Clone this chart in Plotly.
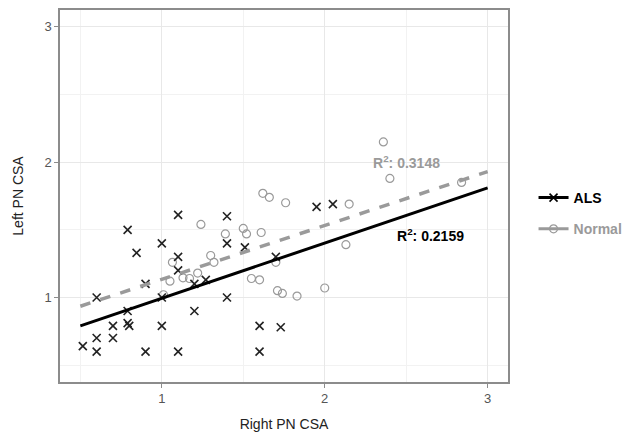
import plotly.graph_objects as go

# ALS data
als_x = [1.10, 1.40, 0.79, 1.00, 1.40, 0.845, 1.10, 1.51, 1.10, 0.90, 1.20, 1.27, 1.70,
         0.60, 1.00, 1.40, 0.79, 1.20, 0.70, 0.79, 0.80, 1.00, 1.60, 1.73, 0.60, 0.70,
         0.515, 0.60, 0.90, 1.10, 1.60, 1.95, 2.05]
als_y = [1.61, 1.60, 1.50, 1.40, 1.40, 1.33, 1.30, 1.37, 1.20, 1.10, 1.10, 1.13, 1.30,
         1.00, 1.00, 1.00, 0.90, 0.90, 0.79, 0.81, 0.79, 0.79, 0.79, 0.78, 0.70, 0.70,
         0.64, 0.60, 0.60, 0.60, 0.60, 1.67, 1.69]

# Normal data
normal_x = [1.24, 1.39, 1.50, 1.52, 1.61, 1.065, 1.30, 1.32, 1.05, 1.13, 1.17, 1.22, 1.55,
            1.60, 1.70, 1.71, 1.74, 1.83, 1.01, 1.62, 1.66, 1.76, 2.15, 2.13, 2.00, 2.36,
            2.40, 2.84]
normal_y = [1.54, 1.47, 1.51, 1.47, 1.48, 1.26, 1.31, 1.26, 1.12, 1.145, 1.14, 1.18, 1.14,
            1.13, 1.26, 1.05, 1.03, 1.01, 1.02, 1.77, 1.74, 1.70, 1.69, 1.39, 1.07, 2.15,
            1.88, 1.85]

# Fitted regression lines (endpoints)
als_fit_x = [0.5, 3.0]
als_fit_y = [0.79, 1.81]
normal_fit_x = [0.5, 3.0]
normal_fit_y = [0.935, 1.93]

# R² labels
als_r2 = "R<sup>2</sup>: 0.2159"
normal_r2 = "R<sup>2</sup>: 0.3148"
als_r2_pos = (2.65, 1.46)
normal_r2_pos = (2.50, 2.00)

tick_vals = [1, 2, 3]
tick_text = ["1", "2", "3"]

ALS_COLOR = "#000000"
NORMAL_COLOR = "#9a9a9a"
FONT = "Liberation Sans, Arial, sans-serif"

fig = go.Figure()

fig.add_trace(go.Scatter(
    x=normal_x, y=normal_y, mode="markers", showlegend=False,
    marker=dict(symbol="circle-open", size=8, color=NORMAL_COLOR, line=dict(width=1.2)),
))
fig.add_trace(go.Scatter(
    x=als_x, y=als_y, mode="markers", showlegend=False,
    marker=dict(symbol="x-thin-open", size=8, color="#222222", line=dict(width=1.6, color="#222222")),
))
fig.add_trace(go.Scatter(
    x=normal_fit_x, y=normal_fit_y, mode="lines", showlegend=False,
    line=dict(color=NORMAL_COLOR, width=3.5, dash="dash"),
))
fig.add_trace(go.Scatter(
    x=als_fit_x, y=als_fit_y, mode="lines", showlegend=False,
    line=dict(color=ALS_COLOR, width=3),
))

# legend entries
fig.add_trace(go.Scatter(
    x=[None], y=[None], mode="lines+markers", name="<b>ALS</b>", legendgroup="a",
    line=dict(color=ALS_COLOR, width=3),
    marker=dict(symbol="x-thin-open", size=8, color=ALS_COLOR, line=dict(width=1.6, color=ALS_COLOR)),
))
fig.add_trace(go.Scatter(
    x=[None], y=[None], mode="lines+markers",
    name="<b><span style='color:" + NORMAL_COLOR + "'>Normal</span></b>", legendgroup="b",
    line=dict(color=NORMAL_COLOR, width=3),
    marker=dict(symbol="circle-open", size=8, color=NORMAL_COLOR, line=dict(width=1.2)),
))

fig.add_annotation(x=als_r2_pos[0], y=als_r2_pos[1], text="<b>" + als_r2 + "</b>",
                   showarrow=False, font=dict(size=14, color=ALS_COLOR, family=FONT))
fig.add_annotation(x=normal_r2_pos[0], y=normal_r2_pos[1], text="<b>" + normal_r2 + "</b>",
                   showarrow=False, font=dict(size=14, color=NORMAL_COLOR, family=FONT))

axis_common = dict(
    range=[0.375, 3.125],
    tickvals=tick_vals, ticktext=tick_text,
    showgrid=True, gridcolor="#e8e8e8", gridwidth=1,
    minor=dict(showgrid=True, gridcolor="#f2f2f2", gridwidth=1, dtick=0.5, tick0=0.5),
    showline=True, linecolor="#8c8c8c", linewidth=1.5, mirror=True,
    ticks="outside", ticklen=4, tickcolor="#8c8c8c", tickwidth=1.2,
    tickfont=dict(size=13, color="#555555", family=FONT),
    zeroline=False, automargin=False,
)

fig.update_xaxes(**axis_common, title=dict(text="Right PN CSA", font=dict(size=14, color="#222222", family=FONT), standoff=14))
fig.update_yaxes(**axis_common, title=dict(text="Left PN CSA", font=dict(size=14, color="#222222", family=FONT), standoff=18))

fig.update_layout(
    width=622, height=424,
    margin=dict(l=52, r=120, t=2, b=50),
    plot_bgcolor="white", paper_bgcolor="white",
    font=dict(family=FONT),
    legend=dict(x=1.057, y=0.453, yanchor="middle", xanchor="left",
                font=dict(size=14, family=FONT, color="#000000"),
                tracegroupgap=10, itemwidth=30),
)

fig.write_html("out.html")
